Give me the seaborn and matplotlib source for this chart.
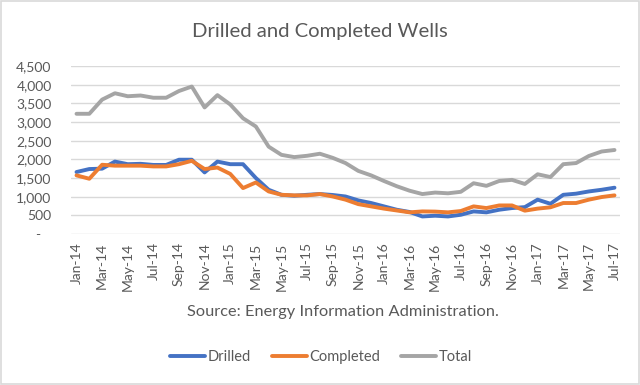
import pandas as pd
import seaborn as sns
import matplotlib.pyplot as plt

# Monthly data, Jan-14 .. Jul-17
months = pd.date_range("2014-01-01", periods=43, freq="MS").strftime("%b-%y").tolist()

drilled = [1660, 1740, 1750, 1940, 1870, 1880, 1850, 1850, 1990, 1990,
           1650, 1940, 1870, 1870, 1500, 1185, 1050, 1025, 1050, 1070,
           1045, 1005, 900, 830, 740, 650, 590, 470, 490, 470,
           515, 605, 580, 650, 695, 720, 920, 810, 1050, 1080,
           1140, 1185, 1240]

completed = [1570, 1480, 1855, 1830, 1830, 1830, 1810, 1810, 1870, 1960,
             1740, 1780, 1610, 1230, 1380, 1140, 1050, 1035, 1035, 1070,
             1005, 920, 800, 740, 680, 630, 580, 605, 600, 580,
             615, 740, 695, 765, 765, 625, 680, 715, 830, 830,
             920, 990, 1035]

total = [3220, 3220, 3600, 3770, 3690, 3710, 3650, 3650, 3830, 3950,
         3390, 3720, 3470, 3100, 2880, 2340, 2120, 2060, 2095, 2150,
         2040, 1900, 1690, 1570, 1420, 1280, 1160, 1070, 1110, 1090,
         1130, 1360, 1290, 1420, 1450, 1340, 1600, 1525, 1870, 1900,
         2090, 2210, 2250]

series_names = ["Drilled", "Completed", "Total"]
palette = {"Drilled": "#4472C4", "Completed": "#ED7D31", "Total": "#A5A5A5"}

df = pd.DataFrame({"idx": range(len(months)), "Drilled": drilled,
                   "Completed": completed, "Total": total})
long_df = df.melt(id_vars="idx", value_vars=series_names,
                  var_name="Series", value_name="Wells")

sns.set_style("white")
plt.rcParams["font.family"] = ["Lato", "DejaVu Sans"]

fig = plt.figure(figsize=(6.4, 3.85), dpi=100)
ax = fig.add_axes([71 / 640, 1 - 234 / 385, 549 / 640, 168 / 385])

sns.lineplot(data=long_df, x="idx", y="Wells", hue="Series",
             hue_order=series_names, palette=palette, linewidth=2.8,
             ax=ax, legend=False)

# grid
ax.set_ylim(0, 4500)
ax.set_xlim(-0.43, len(months) - 1 + 0.43)
yticks = list(range(0, 4501, 500))
ax.set_yticks(yticks)
ax.set_yticklabels(["-   "] + [f"{v:,}" for v in yticks[1:]])
ax.yaxis.grid(True, color="#D9D9D9", linewidth=1)
ax.set_axisbelow(True)
for s in ax.spines.values():
    s.set_visible(False)

ax.set_xticks(range(0, len(months), 2))
ax.set_xticklabels(months[::2], rotation=90)
ax.tick_params(axis="both", length=0, labelsize=10, colors="#595959")
ax.tick_params(axis="y", pad=14)
ax.tick_params(axis="x", pad=6)
ax.set_xlabel("")
ax.set_ylabel("")

fig.text(0.5, 1 - 32 / 385, "Drilled and Completed Wells",
         ha="center", va="center", fontsize=14.6, color="#595959")
fig.text(343 / 640, 1 - 312 / 385, "Source: Energy Information Administration.",
         ha="center", va="center", fontsize=11.8, color="#595959")

handles = [plt.Line2D([], [], color=palette[n], linewidth=2.8) for n in series_names]
leg = fig.legend(handles, series_names, loc="center", ncol=3, frameon=False,
                 bbox_to_anchor=(321 / 640, 1 - 357 / 385), fontsize=10.5,
                 handlelength=2.4, handletextpad=0.2, columnspacing=1.4)
for t in leg.get_texts():
    t.set_color("#595959")

# chart border
fig.patches.append(plt.Rectangle((0.002, 0.003), 0.996, 0.994, transform=fig.transFigure,
                                 fill=False, edgecolor="#D9D9D9", linewidth=1.2))

plt.savefig("out.png", dpi=100)
plt.close()
